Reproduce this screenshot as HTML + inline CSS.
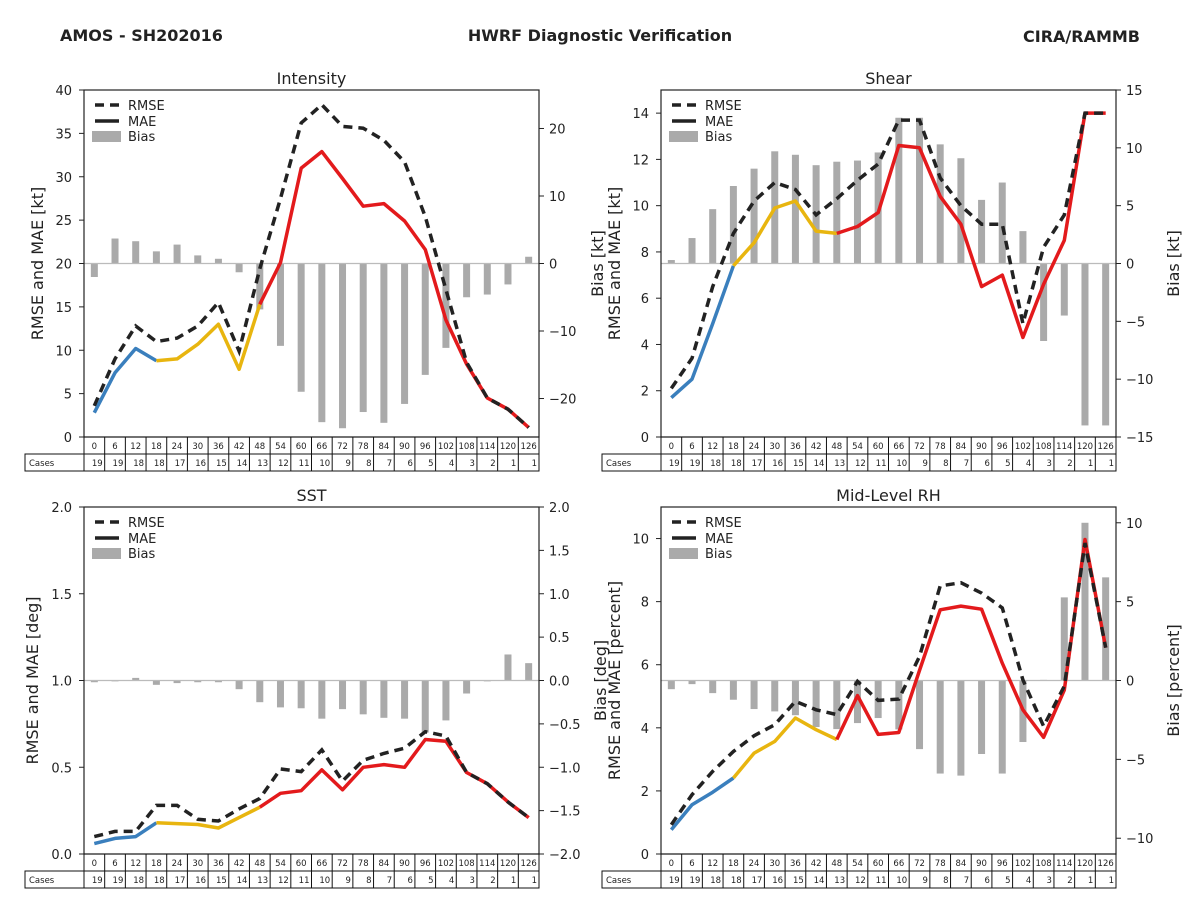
<!DOCTYPE html>
<html><head><meta charset="utf-8"><style>
body{margin:0;background:#fff;}
svg{display:block;font-family:"DejaVu Sans","Liberation Sans",sans-serif;}
</style></head><body>
<svg id="c" width="1200" height="900" viewBox="0 0 1200 900">
<rect width="1200" height="900" fill="#fff"/>
<text x="60" y="41" font-size="16" font-weight="bold" fill="#222">AMOS - SH202016</text>
<text x="600" y="41" font-size="16" font-weight="bold" fill="#222" text-anchor="middle">HWRF Diagnostic Verification</text>
<text x="1140" y="42" font-size="16" font-weight="bold" fill="#222" text-anchor="end">CIRA/RAMMB</text>
</svg>
<script>
const hours=[0,6,12,18,24,30,36,42,48,54,60,66,72,78,84,90,96,102,108,114,120,126];
const cases=[19,19,18,18,17,16,15,14,13,12,11,10,9,8,7,6,5,4,3,2,1,1];
const intMae=[2.8,7.4,10.2,8.8,9.0,10.7,13.0,7.8,15.3,20.1,31.0,32.9,29.8,26.6,26.9,24.9,21.6,13.5,8.4,4.5,3.2,1.1];
const intRmse=[3.6,9.0,12.8,11.0,11.4,12.8,15.5,9.9,19.4,27.5,36.2,38.3,35.8,35.6,34.2,31.7,25.4,17.0,8.6,4.5,3.2,1.1];
const intBias=[-2.0,3.7,3.3,1.8,2.8,1.2,0.7,-1.3,-6.8,-12.2,-19.0,-23.5,-24.4,-22.0,-23.6,-20.8,-16.5,-12.5,-5.0,-4.6,-3.1,1.0];
const shrMae=[1.7,2.5,4.9,7.4,8.4,9.9,10.2,8.9,8.8,9.1,9.7,12.6,12.5,10.4,9.2,6.5,7.0,4.3,6.6,8.5,14.0,14.0];
const shrRmse=[2.1,3.4,6.5,8.8,10.2,11.0,10.7,9.6,10.3,11.1,11.8,13.7,13.7,11.2,10.0,9.2,9.2,4.9,8.2,9.6,14.0,14.0];
const shrBias=[0.3,2.2,4.7,6.7,8.2,9.7,9.4,8.5,8.8,8.9,9.6,12.6,12.6,10.3,9.1,5.5,7.0,2.8,-6.7,-4.5,-14.0,-14.0];
const sstMae=[0.06,0.09,0.10,0.18,0.175,0.17,0.15,0.21,0.27,0.35,0.365,0.485,0.37,0.50,0.515,0.50,0.66,0.65,0.47,0.405,0.30,0.21];
const sstRmse=[0.10,0.13,0.13,0.28,0.28,0.20,0.19,0.26,0.32,0.49,0.475,0.60,0.42,0.54,0.58,0.61,0.705,0.68,0.47,0.405,0.30,0.21];
const sstBias=[-0.02,-0.01,0.03,-0.05,-0.03,-0.02,-0.02,-0.10,-0.25,-0.31,-0.32,-0.44,-0.33,-0.39,-0.43,-0.44,-0.6,-0.46,-0.15,-0.01,0.30,0.20];
const rhMae=[0.77,1.56,1.96,2.41,3.2,3.57,4.31,3.94,3.63,5.02,3.79,3.85,5.82,7.74,7.86,7.76,6.05,4.57,3.70,5.2,9.97,6.54];
const rhRmse=[0.93,1.88,2.62,3.25,3.75,4.1,4.84,4.57,4.42,5.47,4.87,4.91,6.26,8.5,8.6,8.27,7.8,5.52,4.05,5.32,9.86,6.54];
const rhBias=[-0.55,-0.23,-0.8,-1.22,-1.81,-1.96,-2.2,-2.95,-3.08,-2.7,-2.38,-3.1,-4.35,-5.9,-6.03,-4.66,-5.9,-3.9,0.04,5.27,10.0,6.54];
const intLeftTicks=[0,5,10,15,20,25,30,35,40];
const intRightTicks=[-20,-10,0,10,20];
const shrLeftTicks=[0,2,4,6,8,10,12,14];
const shrRightTicks=[-15,-10,-5,0,5,10,15];
const sstLeftTicks=[0,0.5,1.0,1.5,2.0];
const sstRightTicks=[-2,-1.5,-1,-0.5,0,0.5,1,1.5,2];
const rhLeftTicks=[0,2,4,6,8,10];
const rhRightTicks=[-10,-5,0,5,10];

const NS='http://www.w3.org/2000/svg';
const svg=document.getElementById('c');
function mk(tag,attrs,parent,txt){const e=document.createElementNS(NS,tag);for(const k in attrs)e.setAttribute(k,attrs[k]);if(txt!==undefined)e.textContent=txt;(parent||svg).appendChild(e);return e;}

const panels=[
 {key:'intensity',title:'Intensity',x0:84,x1:539,y0:90,y1:437,lmax:40,rmin:-25.7,rmax:25.7,lt:intLeftTicks,rt:intRightTicks,lf:v=>String(v),rf:v=>String(v).replace('-','\u2212'),mae:intMae,rmse:intRmse,bias:intBias,ll:'RMSE and MAE [kt]',rl:'Bias [kt]',llx:43,rlx:603},
 {key:'shear',title:'Shear',x0:661,x1:1116,y0:90,y1:437,lmax:15,rmin:-15,rmax:15,lt:shrLeftTicks,rt:shrRightTicks,lf:v=>String(v),rf:v=>String(v).replace('-','\u2212'),mae:shrMae,rmse:shrRmse,bias:shrBias,ll:'RMSE and MAE [kt]',rl:'Bias [kt]',llx:620,rlx:1179},
 {key:'sst',title:'SST',x0:84,x1:539,y0:507,y1:854,lmax:2,rmin:-2,rmax:2,lt:sstLeftTicks,rt:sstRightTicks,lf:v=>v.toFixed(1),rf:v=>v.toFixed(1).replace('-','\u2212'),mae:sstMae,rmse:sstRmse,bias:sstBias,ll:'RMSE and MAE [deg]',rl:'Bias [deg]',llx:38,rlx:606},
 {key:'mid-level-rh',title:'Mid-Level RH',x0:661,x1:1116,y0:507,y1:854,lmax:11,rmin:-11,rmax:11,lt:rhLeftTicks,rt:rhRightTicks,lf:v=>String(v),rf:v=>String(v).replace('-','\u2212'),mae:rhMae,rmse:rhRmse,bias:rhBias,ll:'RMSE and MAE [percent]',rl:'Bias [percent]',llx:620,rlx:1179}
];
const segColors=[[0,3,'#3a7fbd'],[3,8,'#e8b50f'],[8,21,'#e31a1c']];

panels.forEach(p=>{
 const g=mk('g',{});
 
 
 const n=hours.length, cw=(p.x1-p.x0)/n;
 const X=i=>p.x0+(i+0.5)*cw;
 const YL=v=>p.y1-(v/p.lmax)*(p.y1-p.y0);
 const YR=v=>p.y1-((v-p.rmin)/(p.rmax-p.rmin))*(p.y1-p.y0);
 // bars
 p.bias.forEach((b,i)=>{
  const y0=YR(0),y=YR(b);
  const r=mk('rect',{x:X(i)-3.5,y:Math.min(y0,y),width:7,height:Math.max(Math.abs(y-y0),0.8),fill:'#aaaaaa'},g);
  
  
 });
 const zl=mk('line',{x1:p.x0,x2:p.x1,y1:YR(0),y2:YR(0),stroke:'#bbbbbb','stroke-width':1.2},g);
 
 
 // MAE segments
 segColors.forEach(([a,b,c])=>{
  let d='';for(let i=a;i<=b;i++)d+=(i===a?'M':'L')+X(i).toFixed(1)+','+YL(p.mae[i]).toFixed(1);
  const l=mk('path',{d:d,fill:'none',stroke:c,'stroke-width':3.5,'stroke-linejoin':'round'},g);
  
  
 });
 let d='';p.rmse.forEach((v,i)=>{d+=(i?'L':'M')+X(i).toFixed(1)+','+YL(v).toFixed(1);});
 const rl=mk('path',{d:d,fill:'none',stroke:'#222','stroke-width':3.5,'stroke-dasharray':'9,6'},g);
 
 
 // frame
 const fr=mk('rect',{x:p.x0,y:p.y0,width:p.x1-p.x0,height:p.y1-p.y0,fill:'none',stroke:'#222','stroke-width':1.2},g);
 
 
 // ticks
 p.lt.forEach(v=>{const y=YL(v);
  mk('line',{x1:p.x0-5,x2:p.x0,y1:y,y2:y,stroke:'#222'},g);
  const t=mk('text',{x:p.x0-12,y:y+5,'font-size':13,'text-anchor':'end',fill:'#222'},g,p.lf(v));
  
  
 });
 p.rt.forEach(v=>{const y=YR(v);
  mk('line',{x1:p.x1,x2:p.x1+5,y1:y,y2:y,stroke:'#222'},g);
  const t=mk('text',{x:p.x1+10,y:y+5,'font-size':13,fill:'#222'},g,p.rf(v));
  
  
 });
 const ti=mk('text',{x:(p.x0+p.x1)/2,y:p.y0-6,'font-size':16,'text-anchor':'middle',fill:'#222'},g,p.title);
 
 
 const yc=(p.y0+p.y1)/2;
 const l1=mk('text',{x:p.llx,y:yc,'font-size':16,'text-anchor':'middle',fill:'#222',transform:`rotate(-90 ${p.llx} ${yc})`},g,p.ll);
 
 
 const l2=mk('text',{x:p.rlx,y:yc,'font-size':16,'text-anchor':'middle',fill:'#222',transform:`rotate(-90 ${p.rlx} ${yc})`},g,p.rl);
 
 
 // legend
 const lg=mk('g',{},g);
 
 
 const lx=p.x0+11, ly=p.y0+15;
 mk('line',{x1:lx,x2:lx+24,y1:ly,y2:ly,stroke:'#222','stroke-width':3.5,'stroke-dasharray':'9,6'},lg);
 mk('text',{x:lx+33,y:ly+5,'font-size':13,fill:'#222'},lg,'RMSE');
 mk('line',{x1:lx,x2:lx+24,y1:ly+16,y2:ly+16,stroke:'#222','stroke-width':3.5},lg);
 mk('text',{x:lx+33,y:ly+21,'font-size':13,fill:'#222'},lg,'MAE');
 mk('rect',{x:lx-3,y:ly+26,width:29,height:11,fill:'#aaaaaa'},lg);
 mk('text',{x:lx+33,y:ly+36,'font-size':13,fill:'#222'},lg,'Bias');
 // table
 const tb=mk('g',{},g);
 
 
 const r1=p.y1, r2=p.y1+17, r3=p.y1+34;
 mk('rect',{x:p.x0,y:r1,width:p.x1-p.x0,height:17,fill:'none',stroke:'#111','stroke-width':1},tb);
 mk('rect',{x:p.x0-59,y:r2,width:p.x1-p.x0+59,height:17,fill:'none',stroke:'#111','stroke-width':1},tb);
 mk('line',{x1:p.x0,x2:p.x0,y1:r2,y2:r3,stroke:'#111'},tb);
 mk('text',{x:p.x0-55,y:r2+12,'font-size':8.5,fill:'#222'},tb,'Cases');
 hours.forEach((h,i)=>{
  const cx=p.x0+i*cw;
  if(i>0){mk('line',{x1:cx,x2:cx,y1:r1,y2:r3,stroke:'#111'},tb);}
  mk('text',{x:cx+cw/2,y:r1+12,'font-size':8.5,'text-anchor':'middle',fill:'#222'},tb,String(h));
  mk('text',{x:cx+cw-2,y:r2+12,'font-size':8.5,'text-anchor':'end',fill:'#222'},tb,String(cases[i]));
 });
});
</script>
</body></html>
